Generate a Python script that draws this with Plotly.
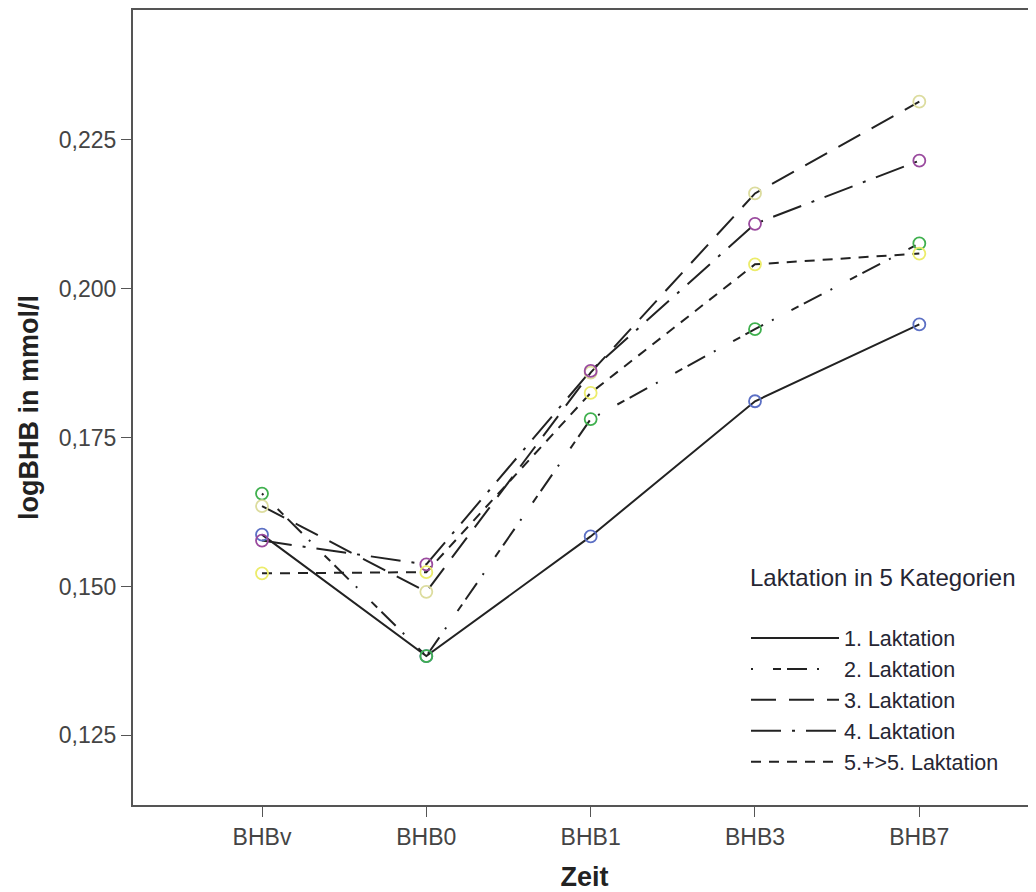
import plotly.graph_objects as go

categories = ["BHBv", "BHB0", "BHB1", "BHB3", "BHB7"]
series_names = ["1. Laktation", "2. Laktation", "3. Laktation", "4. Laktation", "5.+>5. Laktation"]
lak1 = [0.1587, 0.1383, 0.1584, 0.1811, 0.1940]
lak2 = [0.1656, 0.1383, 0.1781, 0.1932, 0.2076]
lak3 = [0.1635, 0.1491, 0.1859, 0.2160, 0.2314]
lak4 = [0.1577, 0.1537, 0.1862, 0.2109, 0.2215]
lak5 = [0.1522, 0.1524, 0.1825, 0.2041, 0.2059]
y_ticks = [0.125, 0.150, 0.175, 0.200, 0.225]

series = [lak1, lak2, lak3, lak4, lak5]
marker_colors = ["#5b6fc4", "#3fb04e", "#dcdc9e", "#9a4a9e", "#ecec6a"]
dashes = ["solid", "2px,20px,8px,6px,20px,10px", "25px,13px", "30px,11px,3px,11px", "10px,8px"]
xi = list(range(len(categories)))

FONT = "Liberation Sans, Arial, sans-serif"

fig = go.Figure()
for i, (vals, name) in enumerate(zip(series, series_names)):
    fig.add_trace(go.Scatter(
        x=xi, y=vals, mode="lines", name=name, legendgroup=name,
        line=dict(color="#222222", width=2, dash=dashes[i]),
    ))
for i, vals in enumerate(series):
    fig.add_trace(go.Scatter(
        x=xi, y=vals, mode="markers", showlegend=False, hoverinfo="skip",
        marker=dict(symbol="circle-open", size=12, color=marker_colors[i],
                    line=dict(width=1.8, color=marker_colors[i])),
    ))

W, H = 1028, 884
L, T, B = 125, 0, 87
pw, ph = W - L, H - T - B

axis_font = dict(family=FONT, size=23, color="#444444")
fig.update_layout(
    width=W, height=H,
    margin=dict(l=L, r=0, t=T, b=B),
    paper_bgcolor="white", plot_bgcolor="white",
    separators=",.",
    showlegend=True,
    legend=dict(x=(746 - 8 - L) / pw, y=(797 - (617 - 8)) / ph, xanchor="left", yanchor="top",
                font=dict(family=FONT, size=21.5, color="#262633"),
                itemwidth=88, tracegroupgap=0, bgcolor="rgba(0,0,0,0)", traceorder="normal"),
    xaxis=dict(
        range=[-0.785, 4.71], tickmode="array", tickvals=xi, ticktext=categories,
        showgrid=False, zeroline=False, showline=True, linecolor="#555555", linewidth=2,
        mirror=True, ticks="outside", ticklen=10, tickcolor="#555555", tickfont=axis_font,
        title=dict(text="<b>Zeit</b>", font=dict(family=FONT, size=27, color="#222222"), standoff=20),
    ),
    yaxis=dict(
        range=[0.1133, 0.2468], tickmode="array", tickvals=y_ticks, tickformat=".3f",
        showgrid=False, zeroline=False, showline=True, linecolor="#555555", linewidth=2,
        ticks="outside", ticklen=10, tickcolor="#555555", tickfont=axis_font,
        title=dict(text="<b>logBHB in mmol/l</b>", font=dict(family=FONT, size=27, color="#222222"), standoff=12),
    ),
    annotations=[dict(text="Laktation in 5 Kategorien", xref="paper", yref="paper",
                      x=(748 - 8 - L) / pw, y=(797 - (577 - 8)) / ph, xanchor="left", yanchor="middle",
                      showarrow=False, font=dict(family=FONT, size=24, color="#262633"))],
)

fig.write_html("out.html")
